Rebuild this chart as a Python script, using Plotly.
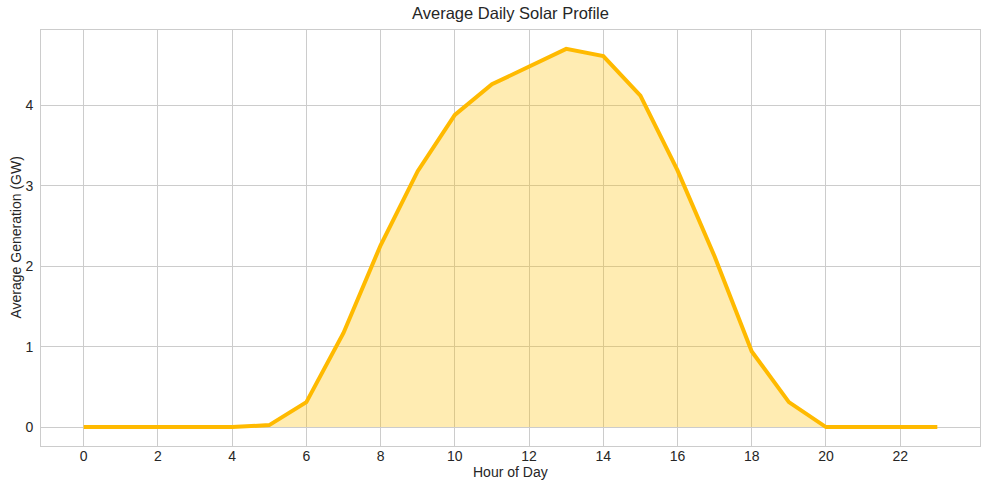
import plotly.graph_objects as go

hours = list(range(24))
generation = [0, 0, 0, 0, 0, 0.025, 0.31, 1.17, 2.26, 3.18, 3.88, 4.26,
              4.48, 4.70, 4.61, 4.12, 3.19, 2.12, 0.94, 0.31, 0, 0, 0, 0]
x_ticks = list(range(0, 24, 2))
y_ticks = [0, 1, 2, 3, 4]

FONT = "Liberation Sans, Arial, sans-serif"
GRID = "#cccccc"
W, H = 989, 490
L, R, T, B = 41, 9, 30, 44
PW, PH = W - L - R, H - T - B

fig = go.Figure()
fig.add_trace(go.Scatter(
    x=hours, y=generation, mode="lines", fill="tozeroy",
    fillcolor="rgba(255,191,0,0.3)",
    line=dict(color="#FFBA00", width=4),
    hoverinfo="x+y", showlegend=False,
))

ymax = max(generation)
fig.update_layout(
    width=W, height=H,
    margin=dict(l=L, r=R, t=T, b=B, autoexpand=False),
    paper_bgcolor="white", plot_bgcolor="white",
    font=dict(family=FONT, size=14, color="#262626"),
    title=dict(text="Average Daily Solar Profile", x=L / W + 0.5 * PW / W, xanchor="center",
               y=1 - 13 / H, yanchor="middle",
               font=dict(family=FONT, size=16.5, color="#262626")),
    xaxis=dict(
        range=[-1.15, 24.15], tickvals=x_ticks, ticktext=[str(t) for t in x_ticks],
        showgrid=True, gridcolor=GRID, gridwidth=1, zeroline=False,
        showline=True, linecolor=GRID, linewidth=1, mirror=True,
        ticks="", ticklabelstandoff=-3, automargin=False,
        tickfont=dict(size=14),
    ),
    yaxis=dict(
        range=[-0.05 * ymax, ymax * 1.05], tickvals=y_ticks,
        showgrid=True, gridcolor=GRID, gridwidth=1, zeroline=False,
        showline=True, linecolor=GRID, linewidth=1, mirror=True,
        ticks="", ticklabelstandoff=4, automargin=False,
        tickfont=dict(size=14),
    ),
    annotations=[
        dict(text="Hour of Day", xref="paper", yref="paper", x=0.5,
             y=-(472 - (H - B)) / PH, xanchor="center", yanchor="middle",
             showarrow=False, font=dict(size=14)),
        dict(text="Average Generation (GW)", xref="paper", yref="paper",
             x=-(L - 15.5) / PW, y=0.5, xanchor="center", yanchor="middle",
             textangle=-90, showarrow=False, font=dict(size=14)),
    ],
)

fig.write_html("out.html")
